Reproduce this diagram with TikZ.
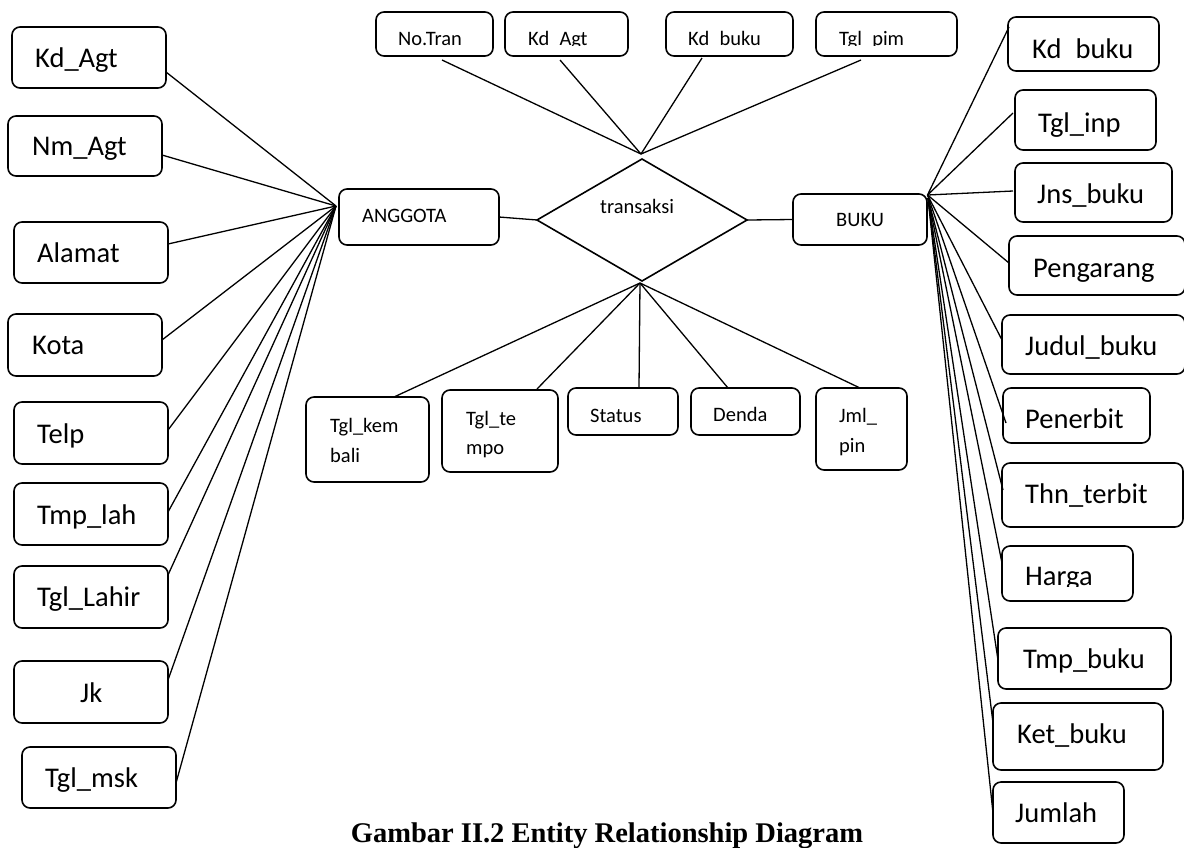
\documentclass[tikz,border=0pt]{standalone}
\usepackage{fontspec}
\setmainfont{Carlito}
\newfontfamily\capfont{Liberation Serif}
\usetikzlibrary{shapes.geometric}
\newcommand\bigtxt{\fontsize{28.5}{33}\selectfont}
\newcommand\smalltxt{\fontsize{20.5}{29.5}\selectfont}
\tikzset{
  box/.style={draw, line width=1.6pt, rounded corners=8pt, inner sep=0pt, outer sep=0pt},
  conn/.style={line width=1.3pt},
  bigl/.style={inner sep=0pt, anchor=base west, font=\bigtxt},
  smalll/.style={inner sep=0pt, anchor=base west, font=\smalltxt},
  capt/.style={inner sep=0pt, anchor=base, font=\capfont\bfseries\fontsize{28.5}{34}\selectfont}
}
\newcommand\abox[5]{\node[box, minimum width={(#4)-(#2)}, minimum height={(#5)-(#3)}] (#1) at ({((#2)+(#4))/2},{((#3)+(#5))/2}) {};}
\begin{document}
\begin{tikzpicture}[x=1pt,y=-1pt]
\useasboundingbox (0,0) rectangle (1184,847);

% ---- left attributes (ANGGOTA)
\abox{kdagt}{12}{27}{166}{88}      \node[bigl] (kdagtT) at (35,67) {Kd\_Agt};
\abox{nmagt}{8}{116}{162}{176}     \node[bigl] (nmagtT) at (32,155) {Nm\_Agt};
\abox{alamat}{14}{222}{168}{283}   \node[bigl] (alamatT) at (37,262) {Alamat};
\abox{kota}{8}{314}{162}{376}      \node[bigl] (kotaT) at (32,354) {Kota};
\abox{telp}{14}{402}{168}{464}     \node[bigl] (telpT) at (37,443) {Telp};
\abox{tmplah}{14}{483}{168}{545}   \node[bigl] (tmplahT) at (37,524) {Tmp\_lah};
\abox{tgllahir}{14}{566}{168}{628} \node[bigl] (tgllahirT) at (37,606) {Tgl\_Lahir};
\abox{jk}{14}{661}{168}{723}       \node[bigl] (jkT) at (80,702) {Jk};
\abox{tglmsk}{22}{747}{176}{808}   \node[bigl] (tglmskT) at (45,787) {Tgl\_msk};

% ---- right attributes (BUKU)
\abox{kdbuku}{1008}{17}{1159}{71}
\begin{scope}\clip (1008,17) rectangle (1159,58.8);
\node[bigl] (kdbukuT) at (1032,58) {Kd\_buku};
\end{scope}
\abox{tglinp}{1015}{90}{1156}{150}     \node[bigl] (tglinpT) at (1038,132) {Tgl\_inp};
\abox{jnsbuku}{1015}{163}{1172}{222}   \node[bigl] (jnsbukuT) at (1037,203) {Jns\_buku};
\abox{pengarang}{1009}{236}{1185}{295} \node[bigl] (pengarangT) at (1033,277) {Pengarang};
\abox{judulbuku}{1002}{315}{1185}{374} \node[bigl] (judulbukuT) at (1025,355) {Judul\_buku};
\abox{penerbit}{1003}{388}{1150}{443}  \node[bigl] (penerbitT) at (1025,428) {Penerbit};
\abox{thnterbit}{1002}{463}{1183}{527} \node[bigl] (thnterbitT) at (1025,503) {Thn\_terbit};
\abox{harga}{1002}{546}{1133}{601}
\begin{scope}\clip (1002,546) rectangle (1133,586.5);
\node[bigl] (hargaT) at (1025,585) {Harga};
\end{scope}
\abox{tmpbuku}{998}{628}{1171}{689}    \node[bigl] (tmpbukuT) at (1023,668) {Tmp\_buku};
\abox{ketbuku}{993}{703}{1163}{770}    \node[bigl] (ketbukuT) at (1017,743) {Ket\_buku};
\abox{jumlah}{993}{782}{1124}{843}     \node[bigl] (jumlahT) at (1015,822) {Jumlah};

% ---- top attributes (transaksi)
\abox{notran}{376}{12}{493}{56}  \node[smalll] (notranT) at (398,45) {No.Tran};
\abox{kdagtb}{505}{12}{628}{56}
\begin{scope}\clip (505,12) rectangle (628,45.6);
\node[smalll] (kdagtbT) at (528,45) {Kd\_Agt};
\end{scope}
\abox{kdbukub}{666}{12}{793}{56}
\begin{scope}\clip (666,12) rectangle (793,45.6);
\node[smalll] (kdbukubT) at (688,45) {Kd\_buku};
\end{scope}
\abox{tglpim}{816}{12}{957}{56}
\begin{scope}\clip (816,12) rectangle (957,45.6);
\node[smalll] (tglpimT) at (839,45) {Tgl\_pim};
\end{scope}

% ---- entities and relationship
\abox{anggota}{339}{189}{499}{245} \node[smalll] (anggotaT) at (362,222) {ANGGOTA};
\abox{buku}{793}{194}{927}{245}    \node[smalll] (bukuT) at (836,226) {BUKU};
\node[draw, diamond, line width=1.6pt, minimum width=210pt, minimum height=122pt, inner sep=0pt, outer sep=0pt] (rel) at (642,220) {};
\node[smalll] (relT) at (600,213) {transaksi};

% ---- bottom attributes (transaksi)
\abox{tglkembali}{306}{397}{429}{482}
\node[smalll] (tglkembaliT) at (330,432) {Tgl\_kem};
\node[smalll] (tglkembaliU) at (330,462) {bali};
\abox{tgltempo}{442}{390}{558}{472}
\node[smalll] (tgltempoT) at (466,425) {Tgl\_te};
\node[smalll] (tgltempoU) at (466,454) {mpo};
\abox{status}{568}{388}{678}{435} \node[smalll] (statusT) at (590,422) {Status};
\abox{denda}{691}{388}{800}{435}  \node[smalll] (dendaT) at (713,421) {Denda};
\abox{jmlpin}{816}{388}{907}{470}
\node[smalll] (jmlpinT) at (839,422) {Jml\_};
\node[smalll] (jmlpinU) at (839,452) {pin};

% ---- caption
\node[capt] (caption) at (607,842) {Gambar II.2 Entity Relationship Diagram};

% ---- hubs
\coordinate (hubA) at ([xshift=-3pt,yshift=11pt]anggota.west);
\coordinate (hubB) at ([xshift=0.5pt,yshift=-1pt]buku.north east);
\coordinate (hubC) at ([xshift=1pt,yshift=-4pt]buku.north east);
\coordinate (hubT) at ([xshift=-1pt,yshift=5pt]rel.north);
\coordinate (hubD) at ([xshift=-2pt,yshift=-2pt]rel.south);

% ---- connectors
\draw[conn] (anggota.east) -- (rel.west);
\draw[conn] (rel.east) -- (buku.west);

\draw[conn] (hubA) -- ([yshift=-14.5pt]kdagt.east);
\draw[conn] (hubA) -- ([yshift=-9pt]nmagt.east);
\draw[conn] (hubA) -- ([yshift=8.5pt]alamat.east);
\draw[conn] (hubA) -- ([yshift=5pt]kota.east);
\draw[conn] (hubA) -- ([yshift=3pt]telp.east);
\draw[conn] (hubA) -- ([yshift=2pt]tmplah.east);
\draw[conn] (hubA) -- ([yshift=22pt]tgllahir.east);
\draw[conn] (hubA) -- ([yshift=12pt]jk.east);
\draw[conn] (hubA) -- ([yshift=-5.5pt]tglmsk.east);

\draw[conn] (hubB) -- ([xshift=1pt,yshift=17pt]kdbuku.west);
\draw[conn] (hubB) -- ([xshift=-2pt,yshift=7pt]tglinp.west);
\draw[conn] (hubB) -- ([xshift=-2pt,yshift=1.5pt]jnsbuku.west);
\draw[conn] (hubB) -- ([yshift=2.5pt]pengarang.west);
\draw[conn] (hubB) -- ([yshift=4.5pt]judulbuku.west);
\draw[conn] (hubB) -- ([xshift=3pt,yshift=-7.5pt]penerbit.west);
\draw[conn] (hubC) -- ([xshift=1pt,yshift=5pt]thnterbit.west);
\draw[conn] (hubC) -- ([yshift=10.5pt]harga.west);
\draw[conn] (hubC) -- ([yshift=-1.5pt]tmpbuku.west);
\draw[conn] (hubC) -- ([yshift=13.5pt]ketbuku.west);
\draw[conn] (hubC) -- ([yshift=-0.5pt]jumlah.west);

\draw[conn] (hubT) -- ([xshift=7.5pt,yshift=-4pt]notran.south);
\draw[conn] (hubT) -- ([xshift=-6.5pt,yshift=-4pt]kdagtb.south);
\draw[conn] (hubT) -- ([xshift=-27.5pt,yshift=-2pt]kdbukub.south);
\draw[conn] (hubT) -- ([xshift=-25.5pt,yshift=-4pt]tglpim.south);

\draw[conn] (hubD) -- ([xshift=26.5pt]tglkembali.north);
\draw[conn] (hubD) -- ([xshift=37pt,yshift=1pt]tgltempo.north);
\draw[conn] (hubD) -- ([xshift=16pt]status.north);
\draw[conn] (hubD) -- ([xshift=-17.5pt]denda.north);
\draw[conn] (hubD) -- ([xshift=-1.5pt]jmlpin.north);
\end{tikzpicture}
\end{document}
